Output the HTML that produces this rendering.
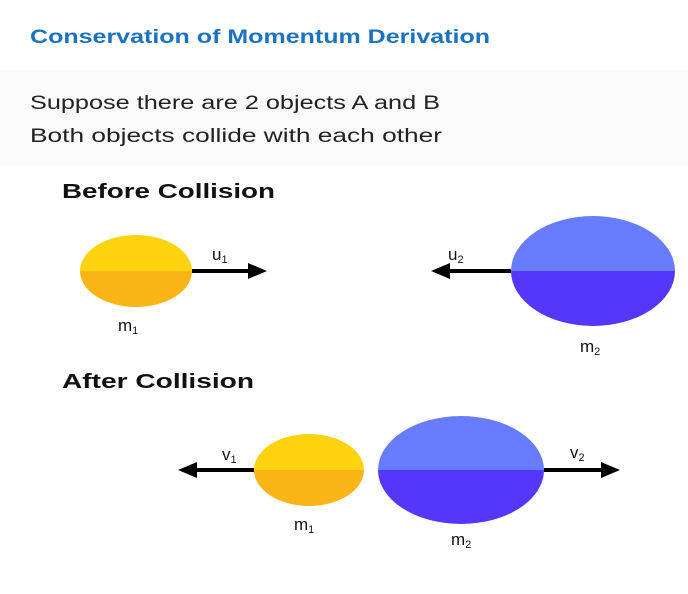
<!DOCTYPE html>
<html><head><style>
body{margin:0;width:688px;height:589px;background:#fff;overflow:hidden;font-family:"Liberation Sans",sans-serif}
</style></head><body>
<svg width="688" height="589" viewBox="0 0 688 589" xmlns="http://www.w3.org/2000/svg">
<rect x="0" y="70" width="688" height="95" fill="#fafafa"/>
<text x="30" y="43" font-size="19" font-weight="bold" fill="#1b72c0" textLength="460" lengthAdjust="spacingAndGlyphs">Conservation of Momentum Derivation</text>
<text x="30" y="109" font-size="19" fill="#222" textLength="410" lengthAdjust="spacingAndGlyphs">Suppose there are 2 objects A and B</text>
<text x="30" y="142" font-size="19" fill="#222" textLength="412" lengthAdjust="spacingAndGlyphs">Both objects collide with each other</text>
<text x="62" y="198" font-size="20" font-weight="bold" fill="#111" textLength="213" lengthAdjust="spacingAndGlyphs">Before Collision</text>
<text x="62" y="388" font-size="20" font-weight="bold" fill="#111" textLength="192" lengthAdjust="spacingAndGlyphs">After Collision</text>

<path d="M80,271 A56,36 0 0 1 192,271 Z" fill="#fdd20f"/>
<path d="M80,271 A56,36 0 0 0 192,271 Z" fill="#fbb516"/>
<line x1="192" y1="271" x2="252" y2="271" stroke="#000" stroke-width="4"/>
<polygon points="248,263 267,271 248,279" fill="#000"/>
<text x="212" y="260" font-size="17" fill="#111">u<tspan font-size="11" dy="3">1</tspan></text>
<text x="118" y="331" font-size="17" fill="#111">m<tspan font-size="11" dy="3">1</tspan></text>

<path d="M511,271 A82,55 0 0 1 675,271 Z" fill="#677cff"/>
<path d="M511,271 A82,55 0 0 0 675,271 Z" fill="#5537fc"/>
<line x1="511" y1="271" x2="446" y2="271" stroke="#000" stroke-width="4"/>
<polygon points="450,263 431,271 450,279" fill="#000"/>
<text x="448" y="260" font-size="17" fill="#111">u<tspan font-size="11" dy="3">2</tspan></text>
<text x="580" y="352" font-size="17" fill="#111">m<tspan font-size="11" dy="3">2</tspan></text>

<path d="M254,470 A55,36 0 0 1 364,470 Z" fill="#fdd20f"/>
<path d="M254,470 A55,36 0 0 0 364,470 Z" fill="#fbb516"/>
<line x1="254" y1="470" x2="193" y2="470" stroke="#000" stroke-width="4"/>
<polygon points="197,462 178,470 197,478" fill="#000"/>
<text x="222" y="460" font-size="17" fill="#111">v<tspan font-size="11" dy="3">1</tspan></text>
<text x="294" y="530" font-size="17" fill="#111">m<tspan font-size="11" dy="3">1</tspan></text>

<path d="M378,470 A83,54 0 0 1 544,470 Z" fill="#677cff"/>
<path d="M378,470 A83,54 0 0 0 544,470 Z" fill="#5537fc"/>
<line x1="544" y1="470" x2="605" y2="470" stroke="#000" stroke-width="4"/>
<polygon points="601,462 620,470 601,478" fill="#000"/>
<text x="570" y="458" font-size="17" fill="#111">v<tspan font-size="11" dy="3">2</tspan></text>
<text x="451" y="545" font-size="17" fill="#111">m<tspan font-size="11" dy="3">2</tspan></text>
</svg>
</body></html>
